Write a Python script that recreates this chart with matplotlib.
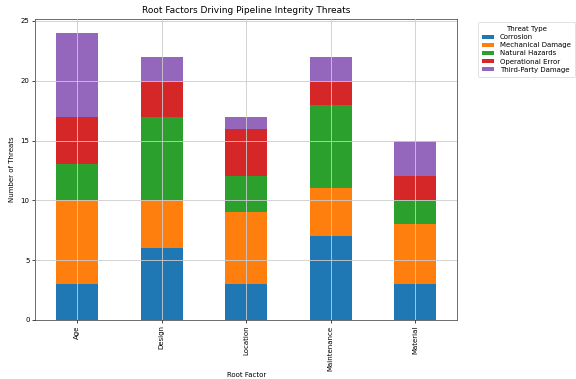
import matplotlib
matplotlib.use("Agg")
import matplotlib.pyplot as plt
import numpy as np

factors = ["Age", "Design", "Location", "Maintenance", "Material"]
threat_types = ["Corrosion", "Mechanical Damage", "Natural Hazards",
                "Operational Error", "Third-Party Damage"]
corrosion = [3, 6, 3, 7, 3]
mechanical = [7, 4, 6, 4, 5]
natural = [3, 7, 3, 7, 2]
operational = [4, 3, 4, 2, 2]
third_party = [7, 2, 1, 2, 3]

series = [corrosion, mechanical, natural, operational, third_party]
colors = ["#1f77b4", "#ff7f0e", "#2ca02c", "#d62728", "#9467bd"]

fig = plt.figure(figsize=(5.76, 3.79), dpi=100)
ax = fig.add_axes([0.061, 0.156, 0.733, 0.795])

x = np.arange(len(factors))
bottom = np.zeros(len(factors))
for name, vals, c in zip(threat_types, series, colors):
    ax.bar(x, vals, 0.5, bottom=bottom, color=c, label=name, zorder=2)
    bottom += np.array(vals)

ax.set_xticks(x)
ax.set_xticklabels(factors, rotation=90, fontsize=5)
ax.tick_params(axis="y", labelsize=5)
ax.tick_params(length=2, width=0.5, pad=2)
ax.set_xlim(-0.5, 4.5)
ax.set_ylim(0, 25.2)
ax.set_yticks([0, 5, 10, 15, 20, 25])
ax.grid(True, color="#cccccc", linewidth=0.6, zorder=0)
ax.set_axisbelow(False)
for s in ax.spines.values():
    s.set_linewidth(0.6)
    s.set_color("#555555")

ax.set_title("Root Factors Driving Pipeline Integrity Threats", fontsize=6.5, pad=4)
ax.set_xlabel("Root Factor", fontsize=5, labelpad=1)
ax.set_ylabel("Number of Threats", fontsize=5, labelpad=4)

leg = ax.legend(title="Threat Type", bbox_to_anchor=(1.04, 1.0), loc="upper left",
                fontsize=5, title_fontsize=5, handlelength=1.8, handleheight=0.6,
                borderpad=0.6, labelspacing=0.3)
leg.get_frame().set_linewidth(0.5)

fig.savefig("out.png", dpi=100)
